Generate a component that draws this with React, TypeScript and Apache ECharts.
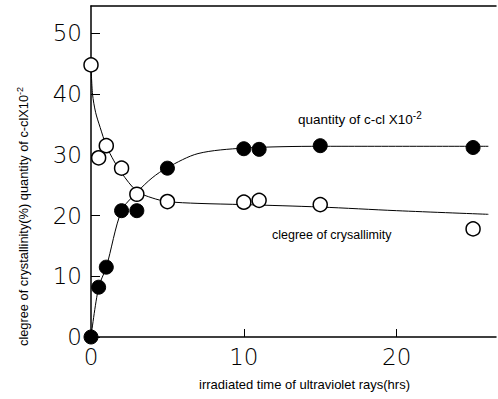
import React, { useEffect, useRef } from "react";
import * as echarts from "echarts";

const crystTime = [0, 0.5, 1, 2, 3, 5, 10, 11, 15, 25];
const crystValues = [44.8, 29.5, 31.5, 27.8, 23.5, 22.3, 22.2, 22.5, 21.8, 17.8];
const cclTime = [0, 0.5, 1, 2, 3, 5, 10, 11, 15, 25];
const cclValues = [0, 8.2, 11.5, 20.8, 20.8, 27.8, 31.0, 30.9, 31.5, 31.2];

const crystCurveX = [0, 0.1, 0.3, 0.6, 1, 1.5, 2, 3, 4, 5, 7, 10, 15, 20, 26];
const crystCurveY = [44.8, 40, 37, 34.5, 31.5, 29, 27, 24, 22.9, 22.3, 22, 21.8, 21.4, 20.8, 20.2];
const cclCurveX = [0, 0.5, 1, 2, 3, 4, 5, 7, 10, 15, 26];
const cclCurveY = [0, 8.2, 11.5, 20.8, 23.8, 26.2, 27.9, 30.2, 31.1, 31.4, 31.4];

const xTicks = [0, 10, 20];
const yTicks = [0, 10, 20, 30, 40, 50];

const FONT = "'Liberation Sans Narrow', 'Liberation Sans', Arial, sans-serif";

export default function App() {
  const ref = useRef<HTMLDivElement>(null);
  useEffect(() => {
    const chart = echarts.init(ref.current!, null, { renderer: "svg" });
    const zip = (xs: number[], ys: number[]) => xs.map((x, i) => [x, ys[i]]);
    chart.setOption({
      animation: false,
      backgroundColor: "#fff",
      grid: { left: 91, top: 6, right: 2, bottom: 62 },
      xAxis: [
        {
          type: "value",
          min: 0,
          max: 26.5,
          interval: 10,
          axisLine: { lineStyle: { color: "#000", width: 1.5 } },
          axisTick: { inside: true, length: 8, lineStyle: { color: "#000" } },
          splitLine: { show: false },
          axisLabel: {
            color: "#000",
            fontSize: 23,
            fontFamily: "'DejaVu Sans', sans-serif",
            fontWeight: "lighter",
            margin: 8,
            showMaxLabel: false,
            formatter: (v: number) => (xTicks.includes(v) ? String(v) : ""),
          },
          name: "irradiated time of ultraviolet rays(hrs)",
          nameLocation: "middle",
          nameGap: 41,
          nameTextStyle: { color: "#000", fontSize: 13, fontFamily: FONT, padding: [0, 0, 0, 22] },
        },
        {
          type: "value",
          position: "top",
          min: 0,
          max: 26.5,
          axisLine: { show: true, lineStyle: { color: "#000", width: 1.5 } },
          axisTick: { show: false },
          axisLabel: { show: false },
          splitLine: { show: false },
        },
      ],
      yAxis: {
        type: "value",
        min: 0,
        max: 54.5,
        interval: 10,
        axisLine: { show: true, lineStyle: { color: "#000", width: 1.5 } },
        axisTick: { show: true, inside: true, length: 9, lineStyle: { color: "#000" } },
        splitLine: { show: false },
        axisLabel: {
          color: "#000",
          fontSize: 23,
          fontFamily: "'DejaVu Sans', sans-serif",
          fontWeight: "lighter",
          margin: 9,
          showMaxLabel: false,
          formatter: (v: number) => (yTicks.includes(v) ? String(v) : ""),
        },
      },
      graphic: [
        {
          type: "text",
          x: 15,
          y: 346,
          rotation: Math.PI / 2,
          style: {
            text: "{a|clegree of crystallinity(%) quantity of c-clX10}{s|-2}",
            rich: {
              a: { fontSize: 12.8, fontFamily: FONT, fill: "#000" },
              s: { fontSize: 9, fontFamily: FONT, fill: "#000", padding: [0, 0, 7, 0] },
            },
            fill: "#000",
          },
        },
        {
          type: "text",
          x: 298,
          y: 110,
          style: {
            text: "{a|quantity of c-cl X10}{s|-2}",
            rich: {
              a: { fontSize: 13.5, fontFamily: FONT, fill: "#000" },
              s: { fontSize: 10, fontFamily: FONT, fill: "#000", padding: [0, 0, 9, 0] },
            },
          },
        },
        {
          type: "text",
          x: 272,
          y: 228,
          style: { text: "clegree of crysallimity", fontSize: 12.5, fontFamily: FONT, fill: "#000" },
        },
      ],
      series: [
        {
          type: "line",
          data: zip(crystCurveX, crystCurveY),
          smooth: 0.3,
          showSymbol: false,
          lineStyle: { color: "#000", width: 1 },
          z: 1,
        },
        {
          type: "line",
          data: zip(cclCurveX, cclCurveY),
          smooth: 0.3,
          showSymbol: false,
          lineStyle: { color: "#000", width: 1 },
          z: 1,
        },
        {
          type: "scatter",
          data: zip(crystTime, crystValues),
          symbol: "circle",
          symbolSize: 14,
          itemStyle: { color: "#fff", borderColor: "#000", borderWidth: 1.5, opacity: 1 },
          z: 3,
        },
        {
          type: "scatter",
          data: zip(cclTime, cclValues),
          symbol: "circle",
          symbolSize: 14,
          itemStyle: { color: "#000", borderColor: "#000", borderWidth: 1, opacity: 1 },
          z: 3,
        },
      ],
    });
    return () => chart.dispose();
  }, []);
  return <div ref={ref} style={{ width: 498, height: 399, position: "absolute", left: 0, top: 0 }} />;
}
